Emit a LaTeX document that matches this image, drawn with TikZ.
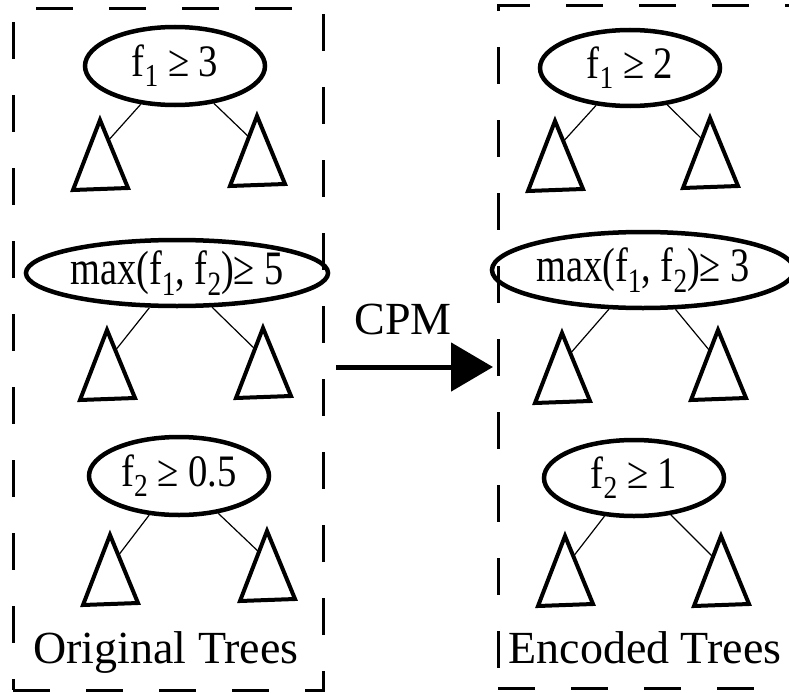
\documentclass[tikz,border=0pt]{standalone}
\usepackage{fontspec}
\setmainfont{Liberation Serif}
\usetikzlibrary{shapes.geometric,arrows.meta,calc}

% subscript digit and horizontally condensed split text
\newcommand\fsub[1]{\raisebox{-0.22em}{\fontsize{0.71em}{0.71em}\selectfont #1}}
\newcommand\cond[1]{\scalebox{0.86}[1]{#1}}
\newcommand\condw[1]{\scalebox{0.8}[1]{#1}}

% a subtree triangle: name, apex x, apex y
\newcommand\subtree[3]{%
  \draw[treetri] (#2,#3) coordinate (#1) -- ++(-27,70) coordinate (#1l)
    -- ++(55,-2) coordinate (#1r) -- cycle;}

\begin{document}
\begin{tikzpicture}[x=1bp,y=-1bp,
  treebox/.style={line width=3bp, dash pattern=on 37bp off 36bp},
  cnode/.style={draw, ellipse, line width=4.5bp, inner sep=0pt,
    font=\fontsize{45bp}{50bp}\selectfont},
  widenode/.style={cnode, font=\fontsize{48bp}{52bp}\selectfont},
  treetri/.style={line width=4bp, line join=miter},
  conn/.style={line width=1.2bp},
  lbl/.style={font=\fontsize{46bp}{50bp}\selectfont, inner sep=0pt, anchor=base},
  flow/.style={line width=5bp, -{Triangle[length=42bp,width=48bp]}}]

\useasboundingbox (0,0) rectangle (789,693);

% dashed frames
\draw[treebox] (13,690) -- (323,690) -- (323,9) -- (13,9) -- cycle;
\draw[treebox] (498,688) -- (830,688) -- (830,6) -- (498,6) -- cycle;

% original split tests
\node[cnode, minimum width=180bp, minimum height=78bp] (L1) at (175,66)
  {\cond{f\fsub{1} ≥ 3}};
\node[widenode, minimum width=280bp, minimum height=66bp] (L2) at (177,273)
  {\condw{max(f\fsub{1}, f\fsub{2})≥ 5}};
\node[cnode, minimum width=180bp, minimum height=78bp] (L3) at (179,476)
  {\cond{f\fsub{2} ≥ 0.5}};

% encoded split tests
\node[cnode, minimum width=180bp, minimum height=76bp] (R1) at (630,68)
  {\cond{f\fsub{1} ≥ 2}};
\node[widenode, minimum width=278bp, minimum height=76bp] (R2) at (643,270)
  {\condw{max(f\fsub{1}, f\fsub{2})≥ 3}};
\node[cnode, minimum width=180bp, minimum height=76bp] (R3) at (634,478)
  {\cond{f\fsub{2} ≥ 1}};

% subtrees
\subtree{L1a}{100}{120}\subtree{L1b}{257}{116}
\subtree{L2a}{107}{330}\subtree{L2b}{263}{328}
\subtree{L3a}{110}{535}\subtree{L3b}{267}{531}
\subtree{R1a}{555}{121}\subtree{R1b}{710}{118}
\subtree{R2a}{562}{333}\subtree{R2b}{718}{330}
\subtree{R3a}{565}{536}\subtree{R3b}{721}{536}

% branches
\foreach \t in {L1,L2,L3,R1,R2,R3}{
  \draw[conn] (\t) -- ($(\t a)!0.3!(\t ar)$);
  \draw[conn] (\t) -- ($(\t b)!0.3!(\t bl)$);
}

% labels
\node[lbl] (orig) at (166,663) {Original Trees};
\node[lbl] (enc) at (645,663) {Encoded Trees};
\node[lbl] (cpm) at (403,334) {CPM};

% encoding step
\coordinate (a0) at (336,367);
\coordinate (a1) at (493,367);
\draw[flow] (a0) -- (a1);
\end{tikzpicture}
\end{document}
